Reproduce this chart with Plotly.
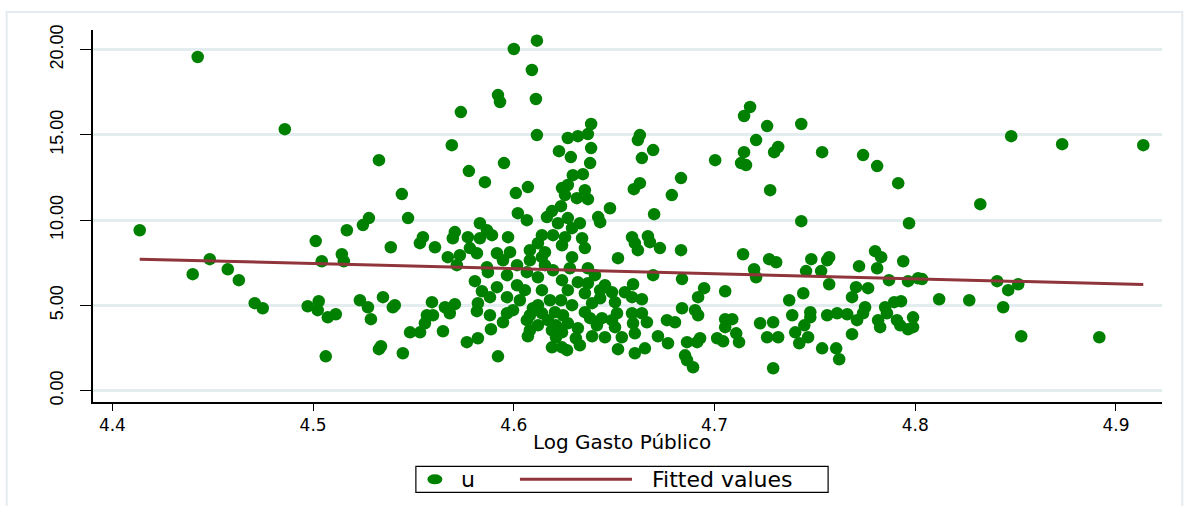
import plotly.graph_objects as go

# ---------------- data ----------------
u_x = [
    4.4425, 4.4859, 4.5328, 4.5442, 4.5278, 4.4136, 4.4400, 4.4485, 4.4575, 4.4630,
    4.4709, 4.4749, 4.4973, 4.5028, 4.5023, 4.5073, 4.5113, 4.5063, 4.5013, 4.5043,
    4.5143, 4.5153, 4.5168, 4.5248, 4.5233, 4.5273, 4.5288, 4.5348, 4.5397, 4.5338,
    4.5328, 4.5447, 4.5387, 4.6000, 4.6115, 4.6090, 4.5921, 4.5931, 4.6110, 4.5736,
    4.6115, 4.5691, 4.5776, 4.5951, 4.5856, 4.6010, 4.6070, 4.6020, 4.5473, 4.6065,
    4.5831, 4.5866, 4.5706, 4.5891, 4.5696, 4.5771, 4.5831, 4.5547, 4.5532, 4.5607,
    4.5971, 4.5781, 4.5671, 4.5731, 4.5816, 4.5916, 4.5981, 4.6080, 4.5716, 4.5866,
    4.5946, 4.6016, 4.6080, 4.5871, 4.5966, 4.6065, 4.5806, 4.5916, 4.6016, 4.5841,
    4.5881, 4.5966, 4.6055, 4.5407, 4.5592, 4.5657, 4.5706, 4.5821, 4.5816, 4.5681,
    4.5567, 4.5597, 4.5881, 4.5996, 4.5966, 4.6095, 4.5557, 4.5946, 4.6065, 4.5483,
    4.5533, 4.5647, 4.5886, 4.6080, 4.6070, 4.5766, 4.5821, 4.5921, 4.6385, 4.6269,
    4.6319, 4.6369, 4.6628, 4.6618, 4.6225, 4.6284, 4.6385, 4.6694, 4.6638, 4.6380,
    4.6294, 4.6344, 4.6833, 4.6628, 4.6598, 4.6787, 4.6269, 4.6240, 4.6354, 4.6255,
    4.6314, 4.6369, 4.6479, 4.6235, 4.6190, 4.6165, 4.6420, 4.6430, 4.6699, 4.6269,
    4.6220, 4.6329, 4.6290, 4.6140, 4.6195, 4.6255, 4.6340, 4.6120, 4.6240, 4.6354,
    4.6589, 4.6603, 4.6668, 4.6678, 4.6618, 4.6728, 4.6833, 4.6519, 4.6290, 4.6140,
    4.6155, 4.6369, 4.6195, 4.6694, 4.6838, 4.6120, 4.6240, 4.6319, 4.6369, 4.6454,
    4.6594, 4.6140, 4.6269, 4.6354, 4.6489, 4.6553, 4.6589, 4.6638, 4.6430, 4.6390,
    4.6180, 4.6120, 4.6504, 4.6354, 4.6205, 4.6140, 4.6245, 4.6439, 4.6514, 4.6589,
    4.6638, 4.6838, 4.6763, 4.6803, 4.6663, 4.6594, 4.6504, 4.6269, 4.6120, 4.6319,
    4.6190, 4.6240, 4.6390, 4.6454, 4.6538, 4.6603, 4.6718, 4.6768, 4.6309, 4.6210,
    4.6190, 4.6240, 4.6519, 4.6603, 4.6653, 4.7177, 4.7147, 4.7262, 4.7432, 4.7207,
    4.7317, 4.7297, 4.7147, 4.7536, 4.7003, 4.7132, 4.7157, 4.7277, 4.7432, 4.7142,
    4.7272, 4.7307, 4.7482, 4.7571, 4.7561, 4.7197, 4.7207, 4.7456, 4.7531, 4.7571,
    4.6948, 4.7053, 4.6918, 4.7442, 4.7372, 4.6903, 4.6918, 4.7477, 4.7477, 4.7387,
    4.7561, 4.7611, 4.7661, 4.7053, 4.7088, 4.7053, 4.7227, 4.7292, 4.7447, 4.7108,
    4.7402, 4.7466, 4.7422, 4.7262, 4.7317, 4.6863, 4.6913, 4.6928, 4.7013, 4.7043,
    4.7122, 4.7536, 4.7606, 4.7621, 4.6853, 4.6863, 4.6893, 4.7292, 4.8478, 4.8732,
    4.9136, 4.7740, 4.7810, 4.7915, 4.8324, 4.7969, 4.7800, 4.7830, 4.7940, 4.7720,
    4.7810, 4.7869, 4.7964, 4.8014, 4.8034, 4.8408, 4.8513, 4.8463, 4.7705, 4.7765,
    4.7685, 4.8119, 4.8269, 4.8438, 4.7895, 4.7929, 4.7750, 4.7850, 4.7740, 4.7859,
    4.7710, 4.7815, 4.7989, 4.7909, 4.7825, 4.7925, 4.7964, 4.7989, 4.7685, 4.8528,
    4.8917, 4.6170, 4.6290, 4.6414, 4.6329, 4.6210, 4.6430, 4.6155, 4.6279, 4.6404,
    4.6235, 4.6380, 4.6489, 4.6080, 4.6030, 4.6265,
]
u_y = [
    19.57, 15.34, 13.52, 11.53, 10.12, 9.41, 6.83, 7.71, 7.12, 6.48,
    5.13, 4.83, 4.95, 5.24, 4.72, 4.30, 4.48, 2.01, 8.77, 7.59,
    8.00, 7.59, 9.41, 9.71, 5.30, 4.89, 4.19, 5.48, 4.89, 2.60,
    2.43, 2.19, 8.41, 20.04, 20.53, 18.81, 17.34, 16.93, 17.11, 16.34,
    14.99, 14.40, 12.88, 13.35, 12.23, 11.59, 11.94, 10.41, 10.12, 10.00,
    9.82, 9.41, 9.30, 9.12, 8.94, 9.00, 8.94, 9.00, 8.65, 8.41,
    9.00, 8.36, 7.83, 7.94, 8.06, 8.06, 8.12, 8.24, 7.36, 7.24,
    7.65, 7.36, 7.65, 6.95, 6.77, 6.95, 6.42, 6.07, 6.18, 5.83,
    5.48, 5.48, 5.89, 5.01, 5.19, 4.89, 5.07, 5.13, 4.66, 4.54,
    4.42, 4.42, 4.42, 4.72, 4.54, 4.83, 3.95, 4.01, 4.13, 3.42,
    3.42, 3.48, 3.60, 3.54, 3.19, 2.84, 3.07, 2.01, 15.64, 14.82,
    14.93, 15.05, 14.99, 14.70, 14.05, 13.70, 14.23, 14.11, 13.64, 13.35,
    12.64, 12.70, 12.47, 12.17, 11.82, 11.47, 12.06, 11.88, 11.76, 11.47,
    11.29, 11.23, 10.70, 10.82, 10.53, 10.18, 10.18, 9.88, 10.35, 10.12,
    9.82, 9.82, 9.53, 9.12, 9.12, 9.00, 8.94, 8.65, 8.53, 8.36,
    9.00, 8.65, 9.06, 8.71, 8.24, 8.36, 8.24, 7.77, 7.83, 7.83,
    8.12, 7.18, 7.06, 6.77, 6.54, 6.65, 6.48, 6.36, 6.30, 6.18,
    6.24, 5.89, 5.89, 5.71, 5.77, 5.77, 5.48, 5.36, 5.42, 5.13,
    5.30, 5.01, 5.19, 4.60, 4.60, 4.54, 4.42, 4.25, 4.54, 4.54,
    4.54, 4.83, 4.13, 4.01, 4.01, 3.95, 3.72, 3.95, 3.83, 3.66,
    3.54, 3.42, 3.19, 3.13, 3.13, 3.36, 3.19, 2.78, 3.07, 3.13,
    2.54, 2.54, 2.43, 2.19, 2.48, 16.64, 16.11, 15.52, 15.64, 14.70,
    14.29, 13.99, 13.99, 13.99, 13.52, 13.35, 13.23, 11.76, 9.94, 8.00,
    7.71, 7.53, 7.71, 7.83, 7.65, 7.12, 6.65, 7.01, 7.01, 6.24,
    6.01, 5.83, 5.48, 5.71, 5.30, 4.72, 4.42, 4.60, 4.30, 4.42,
    4.42, 4.54, 4.48, 4.19, 4.19, 3.72, 3.95, 4.01, 3.83, 3.36,
    3.42, 3.13, 2.78, 3.13, 3.13, 2.84, 2.84, 3.07, 3.07, 2.89,
    2.84, 2.48, 2.48, 1.84, 2.07, 1.78, 1.37, 1.31, 14.93, 14.46,
    14.40, 13.82, 13.17, 12.17, 10.94, 9.82, 8.18, 7.83, 7.59, 7.30,
    7.18, 6.48, 6.42, 6.59, 6.54, 6.42, 6.24, 5.89, 6.07, 6.01,
    5.48, 5.36, 5.30, 4.89, 5.19, 5.24, 4.89, 4.89, 4.54, 4.54,
    4.13, 4.13, 4.30, 4.13, 3.72, 3.83, 3.60, 3.72, 3.31, 3.19,
    3.13, 4.13, 5.01, 3.83, 2.66, 3.83, 5.89, 7.36, 7.18, 6.77,
    5.30, 4.25, 4.13, 4.42, 5.30, 2.37,
]

fit_x = [4.4136, 4.9136]
fit_y = [7.71, 6.22]

x_ticks = [4.4, 4.5, 4.6, 4.7, 4.8, 4.9]
x_tick_labels = ["4.4", "4.5", "4.6", "4.7", "4.8", "4.9"]
y_ticks = [0, 5, 10, 15, 20]
y_tick_labels = ["0.00", "5.00", "10.00", "15.00", "20.00"]

series_names = ["u", "Fitted values"]
x_title = "Log Gasto Público"

GREEN = "rgb(0,128,0)"
MAROON = "rgb(144,53,59)"
GRID = "#E3ECEF"
FONT = "Liberation Sans, Arial, sans-serif"
WIDE = "DejaVu Sans, Liberation Sans, sans-serif"

# ---------------- figure ----------------
fig = go.Figure()
fig.add_trace(go.Scatter(
    x=u_x, y=u_y, mode="markers", name=series_names[0],
    marker=dict(color=GREEN, size=12.5, line=dict(width=0)),
    showlegend=False,
))
fig.add_trace(go.Scatter(
    x=fit_x, y=fit_y, mode="lines", name=series_names[1],
    line=dict(color=MAROON, width=3),
    showlegend=False,
))

# pixel -> paper helpers for layout elements (plot area 93.3..1161.7 x 30..401.7)
L, R, T, B = 93.3, 1161.7, 30.0, 401.7
def px(xp):
    return (xp - L) / (R - L)
def py(yp):
    return (B - yp) / (B - T)

shapes = []
# outer graph frame
shapes.append(dict(type="rect", xref="paper", yref="paper",
                   x0=px(7), x1=px(1182), y0=py(512), y1=py(12),
                   line=dict(color="#E4ECEF", width=2), fillcolor="rgba(0,0,0,0)",
                   layer="below"))
# legend box
shapes.append(dict(type="rect", xref="paper", yref="paper",
                   x0=px(416), x1=px(828), y0=py(492), y1=py(466),
                   line=dict(color="black", width=1.2), fillcolor="white"))
# legend marker (ellipse)
shapes.append(dict(type="circle", xref="paper", yref="paper",
                   xsizemode="pixel", ysizemode="pixel",
                   xanchor=px(435), yanchor=py(479),
                   x0=-7.5, x1=7.5, y0=-5, y1=5,
                   line=dict(width=0), fillcolor=GREEN))
# legend line
shapes.append(dict(type="line", xref="paper", yref="paper",
                   x0=px(520), x1=px(632), y0=py(479), y1=py(479),
                   line=dict(color=MAROON, width=3)))

annotations = [
    dict(text=series_names[0], xref="paper", yref="paper", x=px(468), y=py(479),
         xanchor="center", yanchor="middle", showarrow=False,
         font=dict(family=WIDE, size=22, color="black")),
    dict(text=series_names[1], xref="paper", yref="paper", x=px(650), y=py(479),
         xanchor="left", yanchor="middle", showarrow=False,
         font=dict(family=WIDE, size=22, color="black")),
    dict(text=x_title, xref="paper", yref="paper", x=px(622), y=py(442),
         xanchor="center", yanchor="middle", showarrow=False,
         font=dict(family=WIDE, size=20, color="black")),
]

fig.update_layout(
    width=1190, height=506,
    margin=dict(l=L, r=1190 - R, t=T, b=506 - B, pad=0),
    paper_bgcolor="white", plot_bgcolor="white",
    font=dict(family=FONT, color="black"),
    shapes=shapes, annotations=annotations,
    showlegend=False,
)
fig.update_xaxes(
    range=[4.4 + (L - 112.7) / 2006, 4.4 + (R - 112.7) / 2006],
    tickmode="array", tickvals=x_ticks, ticktext=x_tick_labels,
    ticks="outside", ticklen=7, tickwidth=1.3, tickcolor="black",
    showline=True, linecolor="black", linewidth=1.5,
    showgrid=False, zeroline=False,
    tickfont=dict(family=WIDE, size=17, color="black"),
)
fig.update_yaxes(
    range=[(390.3 - B) / 17.03, (390.3 - T) / 17.03],
    tickmode="array", tickvals=y_ticks, ticktext=y_tick_labels,
    tickangle=-90,
    ticks="outside", ticklen=11, tickwidth=1.3, tickcolor="black",
    showline=True, linecolor="black", linewidth=1.5,
    showgrid=True, gridcolor=GRID, gridwidth=2.5,
    zeroline=False,
    tickfont=dict(family=FONT, size=18, color="black"),
    ticklabelstandoff=10,
)

fig.write_html("out.html")
